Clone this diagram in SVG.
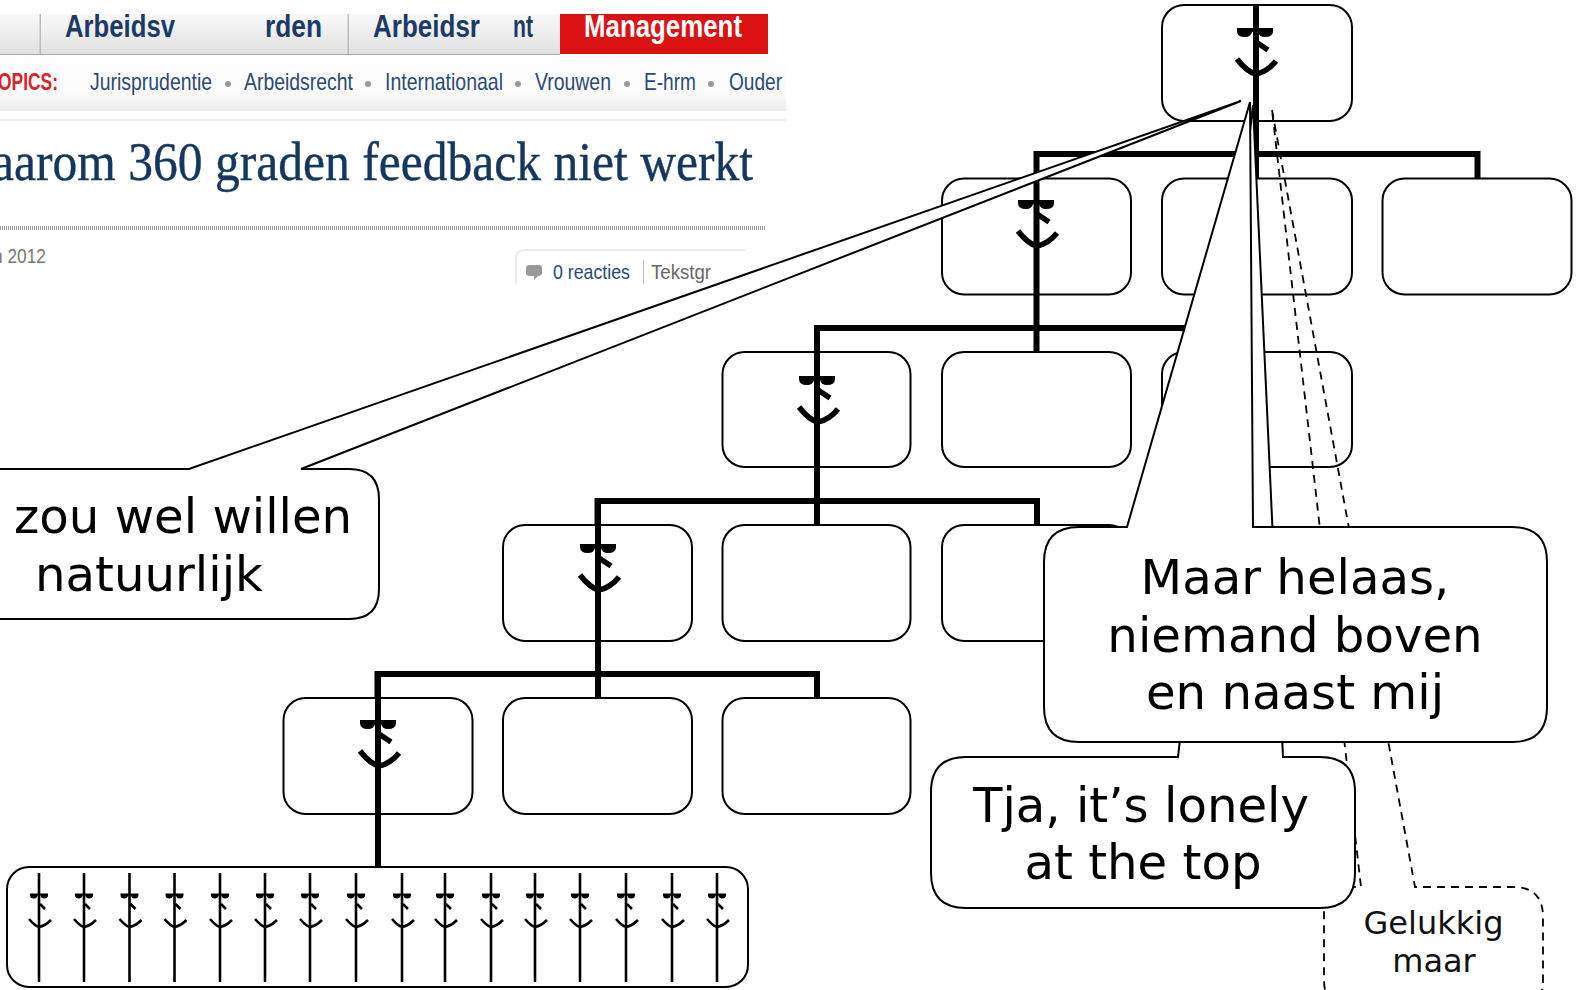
<svg xmlns="http://www.w3.org/2000/svg" width="1581" height="990" viewBox="0 0 1581 990">
<style>
.box{fill:#fff;stroke:#000;stroke-width:2}
.conn{fill:none;stroke:#000;stroke-width:6}
.call{fill:#fff;stroke:#000;stroke-width:2;stroke-linejoin:miter}
.dash{fill:none;stroke:#000;stroke-width:1.8;stroke-dasharray:8 6}
.big{font-family:"DejaVu Sans",sans-serif;font-size:48.200px;fill:#000}
.mid{font-family:"DejaVu Sans",sans-serif;font-size:32px;fill:#111}
.tab{font-family:"Liberation Sans",sans-serif;font-weight:bold;font-size:31px;fill:#1c3a66}
.top{font-family:"Liberation Sans",sans-serif;font-size:24px;fill:#2c4a75}
.meta{font-family:"Liberation Sans",sans-serif;font-size:21px;fill:#555}
</style>
<defs>
<linearGradient id="tabg" x1="0" y1="0" x2="0" y2="1"><stop offset="0" stop-color="#f9f9f9"/><stop offset="1" stop-color="#e0e0e0"/></linearGradient>
<linearGradient id="topg" x1="0" y1="0" x2="0" y2="1"><stop offset="0" stop-color="#fff"/><stop offset="0.7" stop-color="#fafafa"/><stop offset="1" stop-color="#ececec"/></linearGradient>
<g id="fig">
<path d="M-18,-3H18V0Q18,6 10,6Q4,6 3,1H-3Q-4,6-10,6Q-18,6-18,0Z" fill="#000"/>
<path d="M1,11L13,19M-18,28Q-8,41 1,43Q12,41 21,30" fill="none" stroke="#000" stroke-width="5.500"/>
</g>
<g id="mini">
<path d="M0,-22V87" fill="none" stroke="#000" stroke-width="2.600"/>
<path d="M-9,-1.500H9V0Q9,3.500 5,3.500Q2,3.500 1.500,.5H-1.500Q-2,3.500-5,3.500Q-9,3.500-9,0Z" fill="#000"/>
<path d="M1,9L6,14M-10,24Q-4,31 0,32Q6,31 12,25" fill="none" stroke="#000" stroke-width="2.600"/>
</g>
</defs>
<rect width="1581" height="990" fill="#fff"/>
<g id="screenshot">
<rect x="0" y="14" width="560" height="41" fill="url(#tabg)"/>
<rect x="0" y="54" width="560" height="1.500" fill="#aaa"/>
<rect x="39.500" y="14" width="1.500" height="40" fill="#bbb"/>
<rect x="347.500" y="14" width="1.500" height="40" fill="#bbb"/>
<rect x="560" y="14" width="208" height="40" fill="#db1212"/>
<rect x="0" y="55" width="786" height="56" fill="url(#topg)"/>
<rect x="0" y="119" width="786" height="2" fill="#ececec"/>
<text class="tab" x="65" y="37" textLength="110" lengthAdjust="spacingAndGlyphs">Arbeidsv</text>
<text class="tab" x="265" y="37" textLength="57" lengthAdjust="spacingAndGlyphs">rden</text>
<text class="tab" x="373" y="37" textLength="107" lengthAdjust="spacingAndGlyphs">Arbeidsr</text>
<text class="tab" x="513" y="37" textLength="20" lengthAdjust="spacingAndGlyphs">nt</text>
<text class="tab" x="584" y="37" textLength="158" lengthAdjust="spacingAndGlyphs" style="fill:#fff">Management</text>
<text x="-2" y="90" textLength="60" lengthAdjust="spacingAndGlyphs" style="font-family:'Liberation Sans',sans-serif;font-weight:bold;font-size:24px;fill:#d8232a">OPICS:</text>
<text class="top" x="90" y="90" textLength="122" lengthAdjust="spacingAndGlyphs">Jurisprudentie</text>
<text class="top" x="244" y="90" textLength="109" lengthAdjust="spacingAndGlyphs">Arbeidsrecht</text>
<text class="top" x="385" y="90" textLength="118" lengthAdjust="spacingAndGlyphs">Internationaal</text>
<text class="top" x="535" y="90" textLength="76" lengthAdjust="spacingAndGlyphs">Vrouwen</text>
<text class="top" x="644" y="90" textLength="52" lengthAdjust="spacingAndGlyphs">E-hrm</text>
<text class="top" x="729" y="90" textLength="53" lengthAdjust="spacingAndGlyphs">Ouder</text>
<g fill="#999"><circle cx="228" cy="84" r="3"/><circle cx="368" cy="84" r="3"/><circle cx="518" cy="84" r="3"/><circle cx="627" cy="84" r="3"/><circle cx="711" cy="84" r="3"/></g>
<text x="-8" y="180" textLength="761" lengthAdjust="spacingAndGlyphs" style="font-family:'Liberation Serif',serif;font-size:54px;fill:#14365f;stroke:#14365f;stroke-width:.4">aarom 360 graden feedback niet werkt</text>
<path d="M0,228H765" stroke="#999" stroke-width="4" stroke-dasharray="1 1" fill="none"/>
<text class="meta" x="-7" y="263" textLength="53" lengthAdjust="spacingAndGlyphs" style="fill:#777">n 2012</text>
<path d="M516,285V258Q516,250 526,250H745" fill="none" stroke="#ececec" stroke-width="2"/>
<path d="M526,268Q526,265 530,265H539Q542,265 542,268V273Q542,276 538,276L534,280V276H530Q526,276 526,273Z" fill="#999"/>
<text class="meta" x="553" y="279" textLength="77" lengthAdjust="spacingAndGlyphs" style="fill:#2c4a75">0 reacties</text>
<rect x="643" y="260" width="1" height="24" fill="#bbb"/>
<text class="meta" x="651" y="279" textLength="60" lengthAdjust="spacingAndGlyphs" style="fill:#666">Tekstgr</text>
</g>
<g id="nodes">
<rect id="n-root" class="box" x="1162" y="5" width="190" height="116" rx="22"/>
<rect id="n-2a" class="box" x="942" y="178.500" width="189" height="116" rx="22"/>
<rect id="n-2b" class="box" x="1162" y="178.500" width="190" height="116" rx="22"/>
<rect id="n-2c" class="box" x="1382.500" y="178.500" width="189" height="116" rx="22"/>
<rect id="n-3a" class="box" x="722.500" y="352" width="188" height="115" rx="22"/>
<rect id="n-3b" class="box" x="942" y="352" width="189" height="115" rx="22"/>
<rect id="n-3c" class="box" x="1162" y="352" width="190" height="115" rx="22"/>
<rect id="n-4a" class="box" x="503" y="525" width="189" height="116" rx="22"/>
<rect id="n-4b" class="box" x="722.500" y="525" width="188" height="116" rx="22"/>
<rect id="n-4c" class="box" x="942" y="525" width="189" height="116" rx="22"/>
<rect id="n-5a" class="box" x="283.500" y="698" width="189" height="116" rx="22"/>
<rect id="n-5b" class="box" x="503" y="698" width="189" height="116" rx="22"/>
<rect id="n-5c" class="box" x="722.500" y="698" width="188" height="116" rx="22"/>
<rect id="n-staff" class="box" x="7" y="867" width="741" height="120" rx="22"/>
</g>
<g id="connectors">
<path class="conn" d="M1256,5V154M1036.500,178V154H1477.500V178M1256,154V178"/>
<path class="conn" d="M1036.500,178V352M817,352V328H1256V352"/>
<path class="conn" d="M817,328V525M597.500,525V501H1037V525"/>
<path class="conn" d="M598,501V698M377.500,698V674H817V698"/>
<path class="conn" d="M378,674V867"/>
</g>
<g id="figures">
<use href="#fig" x="1255" y="31"/>
<use href="#fig" x="1036" y="203"/>
<use href="#fig" x="817" y="379"/>
<use href="#fig" x="598" y="547"/>
<use href="#fig" x="378" y="723"/>
<use href="#mini" x="39" y="895"/>
<use href="#mini" x="84" y="895"/>
<use href="#mini" x="129.500" y="895"/>
<use href="#mini" x="174.500" y="895"/>
<use href="#mini" x="220" y="895"/>
<use href="#mini" x="265" y="895"/>
<use href="#mini" x="310" y="895"/>
<use href="#mini" x="356" y="895"/>
<use href="#mini" x="402" y="895"/>
<use href="#mini" x="445" y="895"/>
<use href="#mini" x="491" y="895"/>
<use href="#mini" x="535" y="895"/>
<use href="#mini" x="580" y="895"/>
<use href="#mini" x="626" y="895"/>
<use href="#mini" x="672" y="895"/>
<use href="#mini" x="717" y="895"/>
</g>
<g id="callout-gelukkig">
<path class="dash" d="M1272,110L1415,887H1513Q1543,887 1543,917V980Q1543,1010 1513,1010H1354Q1324,1010 1324,980V887H1361L1272,110"/>
<text class="mid" x="1433.500" y="934" text-anchor="middle">Gelukkig</text>
<text class="mid" x="1434" y="972" text-anchor="middle">maar</text>
</g>
<g id="callout-wel">
<path class="call" d="M-40,469H189L1241,101L301,469H349Q379,469 379,499V589Q379,619 349,619H-40Z"/>
<text class="big" x="14" y="533">zou wel willen</text>
<text class="big" x="35" y="591">natuurlijk</text>
</g>
<g id="callout-tja">
<path class="call" d="M966,757H1178L1253,105L1283,757H1320Q1355,757 1355,792V873Q1355,908 1320,908H966Q931,908 931,873V792Q931,757 966,757Z"/>
<text class="big" x="1141" y="822" text-anchor="middle">Tja, it’s lonely</text>
<text class="big" x="1143" y="879" text-anchor="middle">at the top</text>
</g>
<g id="callout-maar">
<path class="call" d="M1079,527H1127L1250,102L1253,527H1512Q1547,527 1547,562V707Q1547,742 1512,742H1079Q1044,742 1044,707V562Q1044,527 1079,527Z"/>
<text class="big" x="1295" y="594" text-anchor="middle">Maar helaas,</text>
<text class="big" x="1295" y="652" text-anchor="middle">niemand boven</text>
<text class="big" x="1295" y="709" text-anchor="middle">en naast mij</text>
</g>
</svg>
